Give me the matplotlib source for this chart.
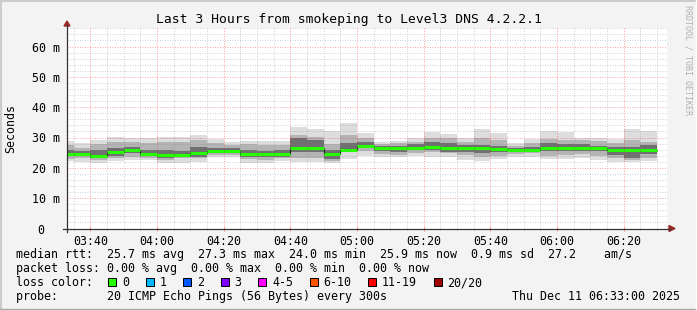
import matplotlib
matplotlib.use('Agg')
import matplotlib.pyplot as plt
from matplotlib.patches import Rectangle, Polygon
from matplotlib.lines import Line2D
import numpy as np

plt.rcParams['font.family'] = ['DejaVu Sans Mono']

# --- data (ms) ---
# each value covers the 5 minutes ending at bar_end (minutes since midnight, 03:35 .. 06:30)
bar_end = np.arange(215, 391, 5)

median = [24.4, 24.6, 24.0, 25.2, 25.8, 24.5, 24.1, 24.1, 24.8, 25.5,
          25.5, 24.5, 24.6, 24.5, 26.4, 26.4, 24.5, 25.8, 27.3, 26.7,
          26.4, 26.6, 27.0, 26.7, 26.4, 26.4, 26.3, 25.8, 25.8, 26.7,
          26.7, 26.4, 26.4, 25.8, 25.8, 25.9]

# outer smoke (min / max ping)
outer_hi = [28.7, 28.2, 29.3, 30.1, 29.9, 29.9, 30.3, 30.3, 30.8, 29.5,
            28.6, 29.0, 29.0, 29.0, 33.5, 32.7, 32.3, 34.7, 31.4, 28.4,
            29.0, 29.8, 31.8, 31.1, 30.0, 32.7, 31.4, 28.2, 29.5, 32.3,
            31.8, 30.0, 29.8, 29.5, 32.9, 32.0]
outer_lo = [22.3, 21.8, 21.7, 22.1, 22.5, 22.5, 21.7, 21.7, 21.9, 23.5,
            23.5, 21.7, 21.7, 22.2, 21.9, 21.9, 21.7, 22.8, 23.9, 23.7,
            23.5, 23.9, 23.7, 23.7, 22.6, 22.3, 23.0, 23.7, 23.7, 22.8,
            22.8, 23.2, 22.6, 21.9, 21.9, 22.3]
# middle smoke
mid_hi = [27.5, 26.4, 27.7, 28.6, 28.4, 28.1, 28.6, 28.6, 29.2, 28.1,
          27.5, 27.7, 27.5, 27.5, 30.8, 30.3, 28.0, 30.8, 29.7, 27.7,
          28.1, 28.6, 29.9, 29.7, 28.6, 29.7, 29.2, 27.3, 28.1, 29.5,
          29.2, 29.2, 28.8, 28.1, 29.2, 28.6]
mid_lo = [23.0, 23.1, 22.6, 23.1, 23.7, 23.4, 22.6, 23.1, 23.1, 24.2,
          24.2, 22.9, 22.6, 23.1, 23.4, 23.1, 22.3, 25.1, 25.5, 24.4,
          24.2, 24.8, 25.1, 24.8, 24.2, 23.7, 24.0, 24.4, 24.8, 24.0,
          24.2, 24.4, 24.0, 23.1, 22.6, 23.4]
# inner (dark) smoke
in_hi = [26.0, 25.5, 25.9, 26.4, 27.0, 25.9, 25.9, 25.5, 27.0, 26.6,
         26.4, 25.9, 25.5, 25.9, 29.7, 29.2, 25.9, 28.1, 28.4, 27.3,
         27.3, 27.7, 28.6, 28.1, 27.5, 27.5, 27.3, 26.6, 27.0, 28.1,
         27.7, 27.7, 27.3, 27.0, 27.0, 27.5]
in_lo = [24.0, 24.0, 23.1, 24.0, 24.8, 24.0, 23.4, 23.7, 23.7, 24.8,
         24.8, 23.7, 23.7, 23.7, 25.3, 25.1, 22.8, 25.3, 26.4, 25.5,
         25.1, 25.9, 25.9, 25.3, 25.1, 24.8, 25.1, 25.1, 25.1, 25.5,
         25.5, 25.5, 25.5, 24.2, 23.1, 24.4]

xtick_labels = ['03:40', '04:00', '04:20', '04:40', '05:00', '05:20', '05:40', '06:00', '06:20']
ytick_labels = ['0  ', '10 m', '20 m', '30 m', '40 m', '50 m', '60 m']

loss_labels = ['0', '1', '2', '3', '4-5', '6-10', '11-19', '20/20']
loss_colors = ['#26ff00', '#00b8ff', '#0059ff', '#7e00ff', '#ff00ff', '#ff5500', '#ff0000', '#a10000']

title = 'Last 3 Hours from smokeping to Level3 DNS 4.2.2.1'
rtt_line = 'median rtt:  25.7 ms avg  27.3 ms max  24.0 ms min  25.9 ms now  0.9 ms sd  27.2    am/s'
loss_line = 'packet loss: 0.00 % avg  0.00 % max  0.00 % min  0.00 % now'
probe_line = 'probe:       20 ICMP Echo Pings (56 Bytes) every 300s'
date_text = 'Thu Dec 11 06:33:00 2025'

# --- figure in pixel units ---
W, H = 697, 310
fs = 8.4

def fx(x):
    return x / W

def fy(y):
    return 1 - y / H

fig = plt.figure(figsize=(W / 100, H / 100), dpi=100, facecolor='#f3f3f3')

x0, x1, y0, y1 = 67, 667, 228.5, 28.3
ax = fig.add_axes([fx(x0), fy(y0), (x1 - x0) / W, (y0 - y1) / H])
ax.set_facecolor('white')
ax.set_xlim(213, 393)
ax.set_ylim(0, 66)

lefts = bar_end - 5
for lo, hi, col in [(outer_lo, outer_hi, '#dddddd'),
                    (mid_lo, mid_hi, '#b4b4b4'),
                    (in_lo, in_hi, '#707070')]:
    lo = np.array(lo)
    hi = np.array(hi)
    ax.bar(lefts, hi - lo, bottom=lo, width=5, align='edge', color=col, linewidth=0, zorder=1)

edges = np.append(lefts, bar_end[-1])
ax.stairs(median, edges, baseline=None, color='#1a1a1a', lw=0.8, zorder=3)
ax.hlines(median, lefts, bar_end, color=loss_colors[0], lw=2.2, zorder=4)

# grid (grid.alpha would override an rgba alpha, so pass alpha separately)
ax.set_xticks(np.arange(220, 393, 20))
ax.set_xticklabels(xtick_labels)
ax.set_xticks(np.arange(215, 393, 5), minor=True)
ax.set_yticks(np.arange(0, 61, 10))
ax.set_yticklabels(ytick_labels)
ax.set_yticks(np.arange(0, 67, 2), minor=True)
ax.set_axisbelow(False)
ax.grid(which='minor', color=(0.5, 0.5, 0.5), alpha=0.35, lw=0.72, ls=(0, (1, 1.5)))
ax.grid(which='major', color=(1, 0, 0), alpha=0.35, lw=0.72, ls=(0, (1, 1.5)))
ax.tick_params(axis='x', which='major', length=3, width=0.72, direction='inout',
               color=(1, 0.5, 0.5), pad=3.3, labelsize=fs)
ax.tick_params(axis='x', which='minor', length=2, width=0.72, direction='inout',
               color=(0.75, 0.75, 0.75))
ax.tick_params(axis='y', which='both', length=0, pad=5.4, labelsize=fs)
for s in ax.spines.values():
    s.set_visible(False)

# axes lines with arrows
axis_col = '#333333'
arrow_col = '#9a2a2a'
fig.add_artist(Line2D([fx(67), fx(67)], [fy(232), fy(25)], color=axis_col, lw=0.9))
fig.add_artist(Line2D([fx(63), fx(670)], [fy(228.5), fy(228.5)], color=axis_col, lw=0.9))
fig.add_artist(Polygon([(fx(64), fy(26)), (fx(70), fy(26)), (fx(67), fy(21))],
                       closed=True, transform=fig.transFigure, color=arrow_col))
fig.add_artist(Polygon([(fx(669), fy(225.5)), (fx(669), fy(231.5)), (fx(675), fy(228.5))],
                       closed=True, transform=fig.transFigure, color=arrow_col))

# texts
fig.text(fx(348.5), fy(19), title, ha='center', va='center', size=9.4)
fig.text(fx(10.5), fy(128.5), 'Seconds', rotation=90, ha='center', va='center', size=fs)
fig.text(fx(688), fy(60), 'RRDTOOL / TOBI OETIKER', rotation=270, ha='center', va='center',
         size=6, color='#b0b0b0')

fig.text(fx(16), fy(258.3), rtt_line, ha='left', va='baseline', size=fs)
fig.text(fx(16), fy(272.3), loss_line, ha='left', va='baseline', size=fs)
fig.text(fx(16), fy(286.3), 'loss color:', ha='left', va='baseline', size=fs)
fig.text(fx(16), fy(300), probe_line, ha='left', va='baseline', size=fs)
fig.text(fx(680), fy(300), date_text, ha='right', va='baseline', size=fs)

cw = 7.02
bx = 108.4
for lab, col in zip(loss_labels, loss_colors):
    fig.add_artist(Rectangle((fx(bx), fy(285.7)), 8 / W, 8 / H, transform=fig.transFigure,
                             facecolor=col, edgecolor='black', lw=0.72))
    fig.text(fx(bx + 14), fy(286.3), lab, ha='left', va='baseline', size=fs)
    bx += 30.4 + cw * len(lab)

# frame
fig.add_artist(Line2D([0, 1], [fy(0.5), fy(0.5)], color='#cccccc', lw=1.5))
fig.add_artist(Line2D([fx(0.5), fx(0.5)], [0, 1], color='#cccccc', lw=1.5))
fig.add_artist(Line2D([0, 1], [fy(308.5), fy(308.5)], color='#a8a8a8', lw=1.0))
fig.add_artist(Line2D([fx(696), fx(696)], [0, 1], color='#ffffff', lw=1.0))

fig.savefig('out.png', dpi=100, facecolor=fig.get_facecolor())
